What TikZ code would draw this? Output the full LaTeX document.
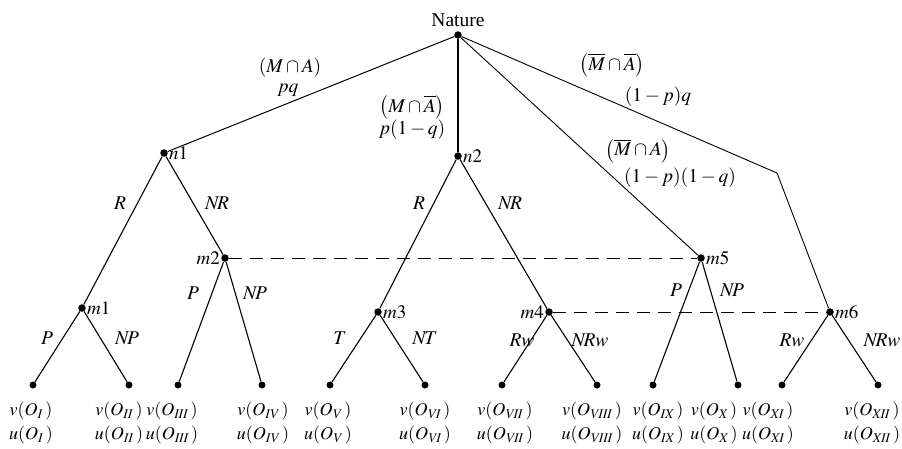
\documentclass[tikz,border=0pt]{standalone}
\usepackage{mathptmx}
\usepackage{fontspec}
\setmainfont{Liberation Serif}
\begin{document}
\begin{tikzpicture}[x=1pt,y=-1pt,
  dot/.style={circle,fill=black,inner sep=0pt,minimum size=7.5pt},
  leaf/.style={circle,fill=black,inner sep=0pt,minimum size=7pt},
  edge/.style={line width=1.1pt},
  info/.style={line width=1pt,dash pattern=on 13pt off 8pt},
  lbl/.style={font=\fontsize{19}{22}\selectfont,inner sep=1pt},
  txt/.style={font=\fontsize{19.5}{23}\selectfont,inner sep=0pt},
  pay/.style={font=\fontsize{18}{21}\selectfont,inner sep=0pt}]
\useasboundingbox (0,0) rectangle (902,448);
% decision nodes
\node[dot,label={[txt,yshift=4pt]above:Nature}] (N) at (458,35) {};
\node[dot,label={[lbl]right:$n1$}] (n1) at (164,153) {};
\node[dot,label={[lbl]right:$n2$}] (n2) at (458,156) {};
\node[dot,label={[lbl]left:$m2$}] (m2) at (225,258) {};
\node[dot,label={[lbl]right:$m5$}] (m5) at (701,258) {};
\node[dot,label={[lbl]right:$m1$}] (m1) at (82,308) {};
\node[dot,label={[lbl]right:$m3$}] (m3) at (378,312) {};
\node[dot,label={[lbl]left:$m4$}] (m4) at (549,312) {};
\node[dot,label={[lbl]right:$m6$}] (m6) at (830,312) {};
\coordinate (bend) at (777,173);
% leaves
\foreach \i/\x in {1/33,2/129,3/178,4/262,5/330,6/425,7/502,8/597,9/653,10/738,11/782,12/878}
  \node[leaf] (l\i) at (\x,385) {};
% edges
\draw[line width=1pt] (N) -- (n1);
\draw[edge] (N) -- (n2);
\draw[line width=0.9pt] (N) -- (m5);
\draw[line width=0.9pt] (N) -- (bend) -- (m6);
\draw[edge] (n1) -- (m1);
\draw[edge] (n1) -- (m2);
\draw[edge] (n2) -- (m3);
\draw[edge] (n2) -- (m4);
\draw[edge] (m1) -- (l1);
\draw[edge] (m1) -- (l2);
\draw[edge] (m2) -- (l3);
\draw[edge] (m2) -- (l4);
\draw[edge] (m3) -- (l5);
\draw[edge] (m3) -- (l6);
\draw[edge] (m4) -- (l7);
\draw[edge] (m4) -- (l8);
\draw[edge] (m5) -- (l9);
\draw[edge] (m5) -- (l10);
\draw[edge] (m6) -- (l11);
\draw[edge] (m6) -- (l12);
% information sets
\draw[info] (m2) -- (m5);
\draw[info] (m4) -- (m6);
% Nature branch labels
\node[txt] (t1a) at (290,68) {$(M\cap A)$};
\node[txt] (t1b) at (288,90) {$pq$};
\node[txt] (t2a) at (412,107) {$\left(M\cap \overline{A}\right)$};
\node[txt] (t2b) at (412,130) {$p(1-q)$};
\node[txt] (t3a) at (612,65) {$\left(\overline{M}\cap \overline{A}\right)$};
\node[txt] (t3b) at (658,97) {$(1-p)q$};
\node[txt] (t4a) at (638,151) {$\left(\overline{M}\cap A\right)$};
\node[txt] (t4b) at (680,178) {$(1-p)(1-q)$};
% action labels
\node[txt] (a1) at (120,203) {$R$};
\node[txt] (a2) at (217,203) {$N\!R$};
\node[txt] (a3) at (419,203) {$R$};
\node[txt] (a4) at (510,203) {$N\!R$};
\node[txt] (a5) at (193,293) {$P$};
\node[txt] (a6) at (255,293) {$N\!P$};
\node[txt] (a7) at (676,290) {$P$};
\node[txt] (a8) at (732,290) {$N\!P$};
\node[txt] (a9) at (47,338) {$P$};
\node[txt] (a10) at (127,338) {$N\!P$};
\node[txt] (a11) at (340,338) {$T$};
\node[txt] (a12) at (425,338) {$N\!T$};
\node[txt] (a13) at (522,340) {$Rw$};
\node[txt] (a14) at (590,340) {$N\!Rw$};
\node[txt] (a15) at (792,340) {$Rw$};
\node[txt] (a16) at (882,340) {$N\!Rw$};
% payoffs
\foreach \i/\x/\r in {1/31/I,2/119/II,3/172/III,4/263/IV,5/328/V,6/425/VI,7/505/VII,8/592/VIII,9/658/IX,10/714/X,11/768/XI,12/872/XII}{
  \node[pay] (v\i) at (\x,411) {$v(O_{\mathit{\r}}\,)$};
  \node[pay] (u\i) at (\x,435) {$u(O_{\mathit{\r}}\,)$};
}
\end{tikzpicture}
\end{document}
